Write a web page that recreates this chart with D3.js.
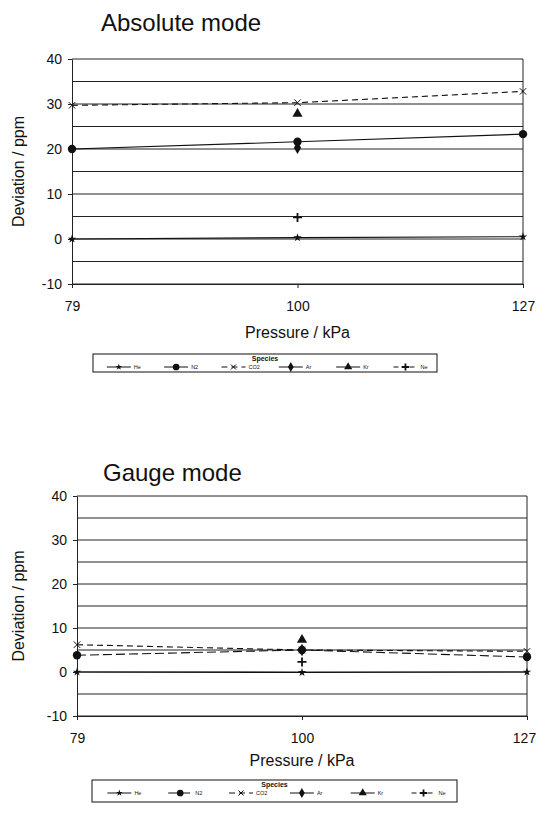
<!DOCTYPE html>
<html>
<head>
<meta charset="utf-8">
<script src="https://cdn.jsdelivr.net/npm/d3@7"></script>
<style>
body { margin: 0; background: #fff; }
text { font-family: "Liberation Sans", Arial, sans-serif; fill: #111; }
</style>
</head>
<body>
<svg id="svg_main" width="537" height="815"></svg>
<script>
// categories / ticks
var pressures = ["79", "100", "127"];
var species = ["He", "N2", "CO2", "Ar", "Kr", "Ne"];
var yTicks = [-10, 0, 10, 20, 30, 40];
var gridValues = [-10, -5, 0, 5, 10, 15, 20, 25, 30, 35, 40];

// Absolute mode, deviation / ppm per pressure (null = not measured)
var absHe = [0, 0.3, 0.5];
var absN2 = [20, 21.6, 23.3];
var absCO2 = [29.7, 30.3, 32.8];
var absAr = [null, 20.3, null];
var absKr = [null, 27.8, null];
var absNe = [null, 4.8, null];

// Gauge mode
var gHe = [0, -0.1, 0];
var gN2 = [3.8, 5.0, 3.4];
var gCO2 = [6.2, 5.0, 4.7];
var gAr = [null, 5.0, null];
var gKr = [null, 7.3, null];
var gNe = [null, 2.3, null];

var svg = d3.select("#svg_main");

function drawMarker(g, sp, cx, cy, k) {
	k = k || 1;
	if (sp == "CO2") {
		var s = 3.2 * k;
		g.append("path")
			.attr("d", "M" + (cx - s) + " " + (cy - s) + "L" + (cx + s) + " " + (cy + s) + "M" + (cx - s) + " " + (cy + s) + "L" + (cx + s) + " " + (cy - s))
			.attr("stroke", "#111").attr("stroke-width", 1);
		return;
	}
	if (sp == "Ne") {
		var p = 4.5 * k;
		g.append("path")
			.attr("d", "M" + (cx - p) + " " + cy + "L" + (cx + p) + " " + cy + "M" + cx + " " + (cy - p) + "L" + cx + " " + (cy + p))
			.attr("stroke", "#111").attr("stroke-width", 1.8);
		return;
	}
	var type = d3.symbolCircle, size = 55;
	if (sp == "He") { type = d3.symbolStar; size = 22; }
	if (sp == "Ar") { type = d3.symbolDiamond; size = 45; }
	if (sp == "Kr") { type = d3.symbolTriangle; size = 45; }
	g.append("path")
		.attr("transform", "translate(" + cx + "," + cy + ")")
		.attr("d", d3.symbol().type(type).size(size * k * k)())
		.attr("fill", "#111");
}

function drawPanel(title, series, dashes, box) {
	var g = svg.append("g");
	var x = d3.scalePoint().domain(pressures).range([box.left, box.right]);
	var y = d3.scaleLinear().domain([-10, 40]).range([box.bottom, box.top]);

	g.append("text")
		.attr("x", box.titleX).attr("y", box.titleY)
		.attr("font-size", 24)
		.text(title);

	g.selectAll("line.grid").data(gridValues).enter().append("line")
		.attr("class", "grid")
		.attr("x1", box.left).attr("x2", box.right)
		.attr("y1", function(d) { return y(d); })
		.attr("y2", function(d) { return y(d); })
		.attr("stroke", "#222").attr("stroke-width", 1);
	g.append("line")
		.attr("x1", box.right).attr("x2", box.right)
		.attr("y1", box.top).attr("y2", box.bottom)
		.attr("stroke", "#222");

	var ya = g.append("g")
		.attr("transform", "translate(" + box.left + ",0)")
		.call(d3.axisLeft(y).tickValues(yTicks).tickFormat(function(d) { return String(d); })
			.tickSize(4).tickSizeOuter(0).tickPadding(6));
	var xa = g.append("g")
		.attr("transform", "translate(0," + box.bottom + ")")
		.call(d3.axisBottom(x).tickSize(4).tickSizeOuter(0).tickPadding(13));
	ya.selectAll("text").attr("font-size", 14).attr("font-family", "Liberation Sans, Arial, sans-serif");
	xa.selectAll("text").attr("font-size", 14).attr("font-family", "Liberation Sans, Arial, sans-serif");
	xa.selectAll("text").filter(function(d) { return d == "127"; }).attr("dx", box.lastDx);
	ya.selectAll("path,line").attr("stroke", "#222");
	xa.selectAll("path,line").attr("stroke", "#222");

	g.append("text")
		.attr("transform", "translate(" + box.yTitleX + "," + ((box.top + box.bottom) / 2) + ") rotate(-90)")
		.attr("text-anchor", "middle")
		.attr("font-size", 16)
		.text("Deviation / ppm");
	g.append("text")
		.attr("x", (box.left + box.right) / 2).attr("y", box.xTitleY)
		.attr("text-anchor", "middle")
		.attr("font-size", 16)
		.text("Pressure / kPa");

	var line = d3.line()
		.defined(function(d) { return d != null; })
		.x(function(d, j) { return x(pressures[j]); })
		.y(function(d) { return y(d); });

	species.forEach(function(sp, i) {
		var vals = series[i];
		var n = vals.filter(function(v) { return v != null; }).length;
		if (n > 1) {
			g.append("path")
				.attr("d", line(vals))
				.attr("fill", "none")
				.attr("stroke", "#111")
				.attr("stroke-width", 1.1)
				.attr("stroke-dasharray", dashes[i]);
		}
		vals.forEach(function(v, j) {
			if (v != null) drawMarker(g, sp, x(pressures[j]), y(v));
		});
	});

	// legend
	var lg = g.append("g");
	lg.append("rect")
		.attr("x", box.legX).attr("y", box.legY)
		.attr("width", box.legW).attr("height", box.legH)
		.attr("fill", "#fff").attr("stroke", "#111").attr("stroke-width", 1);
	lg.append("text")
		.attr("x", box.legX + box.legW / 2).attr("y", box.legY + 7)
		.attr("text-anchor", "middle")
		.attr("font-size", 7).attr("font-weight", "bold")
		.text("Species");
	var step = box.legW / species.length;
	species.forEach(function(sp, i) {
		var cx = box.legX + step * i + step * 0.45;
		var cy = box.legY + 13;
		lg.append("line")
			.attr("x1", cx - 12).attr("x2", cx + 12)
			.attr("y1", cy).attr("y2", cy)
			.attr("stroke", "#111").attr("stroke-width", 1)
			.attr("stroke-dasharray", dashes[i]);
		drawMarker(lg, sp, cx, cy, 0.8);
		lg.append("text")
			.attr("x", cx + 15).attr("y", cy + 2)
			.attr("font-size", 5.5)
			.text(sp);
	});
}

drawPanel("Absolute mode", [absHe, absN2, absCO2, absAr, absKr, absNe],
	[null, null, "6,4", null, null, "5,3"],
	{ left: 72, right: 523, top: 59, bottom: 284, titleX: 101, titleY: 31, yTitleX: 24, xTitleY: 338,
	  lastDx: 0, legX: 93, legY: 354, legW: 344, legH: 18 });

drawPanel("Gauge mode", [gHe, gN2, gCO2, gAr, gKr, gNe],
	[null, "9,4", "6,4", null, null, "5,3"],
	{ left: 77, right: 527, top: 496, bottom: 716, titleX: 103, titleY: 481, yTitleX: 24, xTitleY: 766,
	  lastDx: -3, legX: 92, legY: 780, legW: 365, legH: 22 });
</script>
</body>
</html>
